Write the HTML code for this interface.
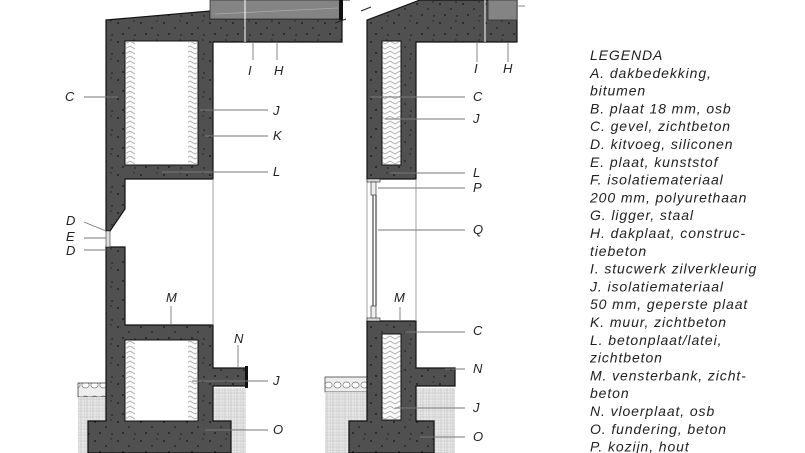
<!DOCTYPE html>
<html><head><meta charset="utf-8"><style>
html,body{margin:0;padding:0;background:#fff;}
svg{display:block;}
.lab{font-family:"Liberation Sans",sans-serif;font-style:italic;font-size:13px;fill:#222;}
.leg{font-family:"Liberation Sans",sans-serif;font-style:italic;font-size:14px;letter-spacing:0.9px;fill:#222;}
</style></head><body>
<svg width="805" height="453" viewBox="0 0 805 453" xmlns="http://www.w3.org/2000/svg">
<defs>
<pattern id="conc" width="23" height="19" patternUnits="userSpaceOnUse">
<rect width="23" height="19" fill="#505050"/>
<circle cx="3" cy="4" r="0.9" fill="#111"/><circle cx="14" cy="9" r="0.8" fill="#111"/>
<circle cx="8" cy="15" r="0.9" fill="#111"/><circle cx="19" cy="2" r="0.7" fill="#222"/>
<circle cx="20" cy="16" r="0.7" fill="#111"/>
</pattern>
<pattern id="ins" width="10" height="5" patternUnits="userSpaceOnUse">
<rect width="10" height="5" fill="#fafafa"/>
<path d="M0 1 L5 4 L10 1" stroke="#aaa" stroke-width="0.8" fill="none"/>
</pattern>
<pattern id="grid" width="6" height="6" patternUnits="userSpaceOnUse">
<rect width="6" height="6" fill="#e6e6e6"/>
<path d="M0 0H6M0 3H6M0 0V6M3 0V6" stroke="#c2c2c2" stroke-width="0.6"/>
</pattern>
<pattern id="grav" width="9" height="14" patternUnits="userSpaceOnUse">
<rect width="9" height="14" fill="#eee"/>
<ellipse cx="4.5" cy="7" rx="3.6" ry="3" fill="#fff" stroke="#777" stroke-width="0.7"/>
</pattern>
</defs>

<rect x="78" y="383" width="28" height="14" fill="url(#grav)" stroke="#444" stroke-width="0.8"/>
<rect x="78" y="397" width="28" height="56" fill="url(#grid)"/>
<rect x="213" y="388" width="33" height="65" fill="url(#grid)"/>
<rect x="325" y="377" width="42" height="15" fill="url(#grav)" stroke="#444" stroke-width="0.8"/>
<rect x="325" y="392" width="42" height="61" fill="url(#grid)"/>
<rect x="416" y="388" width="39" height="65" fill="url(#grid)"/>

<polygon points="106,20 210,11 210,19 342,19 342,42 213,42 213,179 125,179 125,209 110,231 106,231" fill="url(#conc)" stroke="#111" stroke-width="1.2"/>
<polygon points="106,247 125,247 125,325 213,325 213,368 246,368 246,386 213,386 213,421 231,421 231,453 88,453 88,421 106,421" fill="url(#conc)" stroke="#111" stroke-width="1.2"/>
<rect x="106" y="231" width="4" height="16" fill="#ddd" stroke="#333" stroke-width="0.6"/>
<rect x="245" y="366" width="3" height="22" fill="#111"/>
<rect x="210" y="0" width="132" height="19" fill="#848484" stroke="#333" stroke-width="0.8"/>
<line x1="215" y1="14" x2="338" y2="8" stroke="#aaa" stroke-width="0.8"/>
<rect x="339" y="0" width="4" height="20" fill="#111"/>
<line x1="245" y1="0" x2="245" y2="42" stroke="#fff" stroke-width="1"/>
<rect x="125" y="41" width="73" height="124" fill="#fff" stroke="#111"/>
<rect x="126" y="42" width="9" height="122" fill="url(#ins)"/>
<rect x="188" y="42" width="9" height="122" fill="url(#ins)"/>
<rect x="125" y="340" width="73" height="81" fill="#fff" stroke="#111"/>
<rect x="126" y="341" width="9" height="79" fill="url(#ins)"/>
<rect x="188" y="341" width="9" height="79" fill="url(#ins)"/>
<line x1="213" y1="179" x2="213" y2="325" stroke="#888" stroke-width="0.8"/>

<polygon points="367,20 420,0 517,0 517,42 416,42 416,179 367,179" fill="url(#conc)" stroke="#111" stroke-width="1.2"/>
<rect x="488" y="0" width="29" height="20" fill="#848484" stroke="#333" stroke-width="0.8"/>
<line x1="485" y1="0" x2="485" y2="42" stroke="#fff" stroke-width="1"/>
<rect x="382" y="41" width="19" height="124" fill="url(#ins)" stroke="#111"/>
<polygon points="367,321 416,321 416,368 455,368 455,386 416,386 416,421 434,421 434,453 349,453 349,421 367,421" fill="url(#conc)" stroke="#111" stroke-width="1.2"/>
<rect x="382" y="334" width="19" height="86" fill="url(#ins)" stroke="#111"/>
<line x1="367" y1="179" x2="367" y2="321" stroke="#888" stroke-width="0.8"/>
<line x1="416" y1="179" x2="416" y2="321" stroke="#888" stroke-width="0.8"/>
<rect x="367" y="179" width="13" height="3" fill="#ddd" stroke="#222" stroke-width="0.6"/>
<rect x="371" y="182" width="5" height="13" fill="#eee" stroke="#222" stroke-width="0.6"/>
<rect x="371" y="306" width="5" height="13" fill="#eee" stroke="#222" stroke-width="0.6"/>
<rect x="367" y="318" width="13" height="3" fill="#ddd" stroke="#222" stroke-width="0.6"/>
<line x1="373" y1="195" x2="373" y2="306" stroke="#222" stroke-width="1"/>
<line x1="376" y1="195" x2="376" y2="306" stroke="#222" stroke-width="1"/>
<line x1="335" y1="23" x2="346" y2="19" stroke="#222" stroke-width="1"/>
<line x1="361" y1="11" x2="371" y2="7" stroke="#222" stroke-width="1"/>
<line x1="343" y1="0" x2="350" y2="0" stroke="#222"/>
<line x1="517" y1="6" x2="525" y2="6" stroke="#888"/>

<g stroke="#777" stroke-width="0.9">
<line x1="84" y1="97" x2="118" y2="97"/>
<line x1="253" y1="42" x2="253" y2="60"/><line x1="277" y1="42" x2="277" y2="60"/>
<line x1="200" y1="110" x2="268" y2="110"/>
<line x1="205" y1="136" x2="268" y2="136"/>
<line x1="162" y1="172" x2="268" y2="172"/>
<line x1="84" y1="222" x2="106" y2="231"/>
<line x1="84" y1="238" x2="106" y2="238"/>
<line x1="84" y1="250" x2="106" y2="250"/>
<line x1="171" y1="306" x2="171" y2="325"/>
<line x1="238" y1="345" x2="238" y2="368"/>
<line x1="192" y1="381" x2="268" y2="381"/>
<line x1="205" y1="430" x2="268" y2="430"/>
<line x1="477" y1="42" x2="477" y2="62"/><line x1="508" y1="42" x2="508" y2="62"/>
<line x1="370" y1="97" x2="465" y2="97"/>
<line x1="385" y1="119" x2="465" y2="119"/>
<line x1="390" y1="173" x2="465" y2="173"/>
<line x1="378" y1="188" x2="465" y2="188"/>
<line x1="378" y1="230" x2="465" y2="230"/>
<line x1="400" y1="307" x2="400" y2="321"/>
<line x1="405" y1="332" x2="465" y2="332"/>
<line x1="445" y1="369" x2="465" y2="369"/>
<line x1="395" y1="408" x2="465" y2="408"/>
<line x1="420" y1="437" x2="465" y2="437"/>
</g>

<g class="lab">
<text x="65" y="101">C</text>
<text x="248" y="75">I</text><text x="274" y="75">H</text>
<text x="273" y="115">J</text><text x="273" y="140">K</text><text x="273" y="176">L</text>
<text x="66" y="225">D</text><text x="66" y="241">E</text><text x="66" y="255">D</text>
<text x="166" y="302">M</text><text x="234" y="343">N</text>
<text x="273" y="385">J</text><text x="273" y="434">O</text>
<text x="474" y="73">I</text><text x="503" y="73">H</text>
<text x="473" y="101">C</text><text x="473" y="123">J</text>
<text x="473" y="177">L</text><text x="473" y="192">P</text>
<text x="473" y="234">Q</text><text x="394" y="302">M</text>
<text x="473" y="335">C</text><text x="473" y="373">N</text>
<text x="473" y="412">J</text><text x="473" y="441">O</text>
</g>

<g class="leg">
<text x="590" y="60">LEGENDA</text>
<text x="590" y="77.8">A. dakbedekking,</text>
<text x="590" y="95.6">bitumen</text>
<text x="590" y="113.4">B. plaat 18 mm, osb</text>
<text x="590" y="131.2">C. gevel, zichtbeton</text>
<text x="590" y="149">D. kitvoeg, siliconen</text>
<text x="590" y="166.8">E. plaat, kunststof</text>
<text x="590" y="184.6">F. isolatiemateriaal</text>
<text x="590" y="202.4">200 mm, polyurethaan</text>
<text x="590" y="220.2">G. ligger, staal</text>
<text x="590" y="238">H. dakplaat, construc-</text>
<text x="590" y="255.8">tiebeton</text>
<text x="590" y="273.6">I. stucwerk zilverkleurig</text>
<text x="590" y="291.4">J. isolatiemateriaal</text>
<text x="590" y="309.2">50 mm, geperste plaat</text>
<text x="590" y="327">K. muur, zichtbeton</text>
<text x="590" y="344.8">L. betonplaat/latei,</text>
<text x="590" y="362.6">zichtbeton</text>
<text x="590" y="380.4">M. vensterbank, zicht-</text>
<text x="590" y="398.2">beton</text>
<text x="590" y="416">N. vloerplaat, osb</text>
<text x="590" y="433.8">O. fundering, beton</text>
<text x="590" y="451.6">P. kozijn, hout</text>
<text x="590" y="469.4">Q. dubbele beglazing,</text>
</g>
</svg>
</body></html>
